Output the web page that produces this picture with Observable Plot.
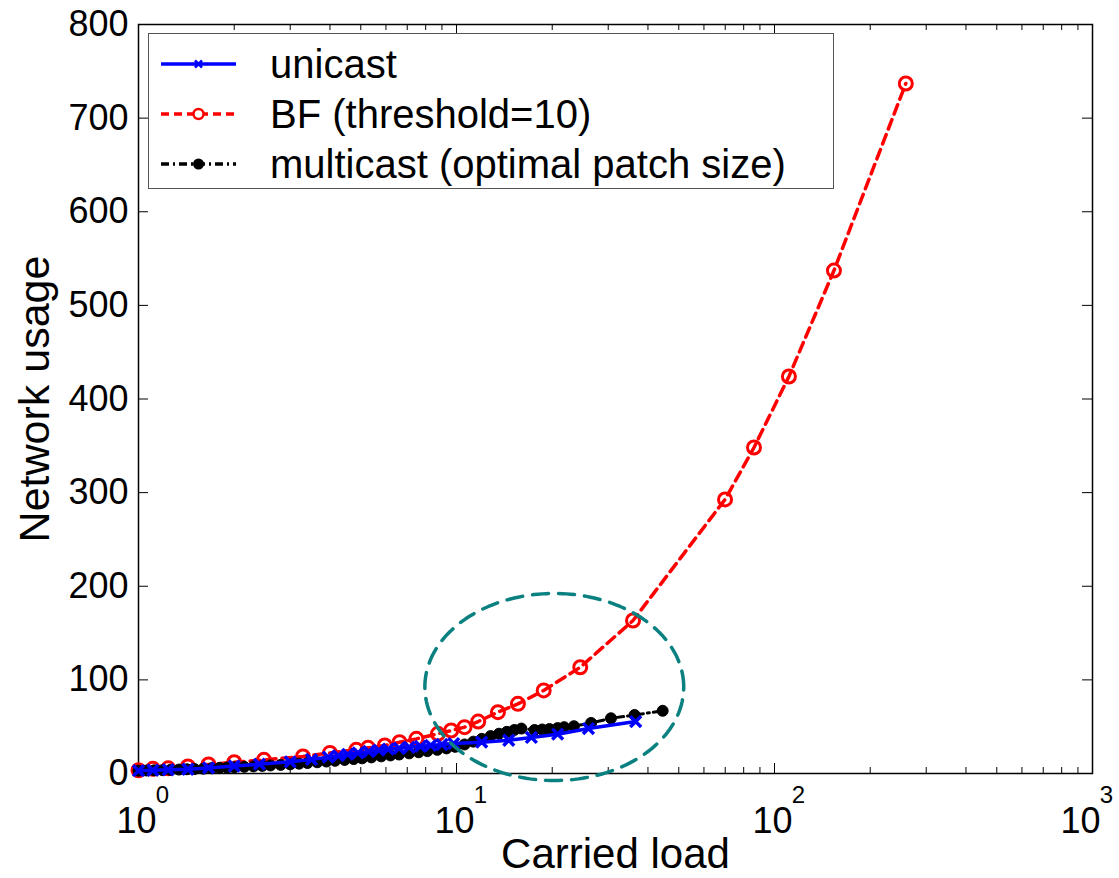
<!DOCTYPE html>
<html><head><meta charset="utf-8">
<script src="https://cdn.jsdelivr.net/npm/d3@7"></script>
<script src="https://cdn.jsdelivr.net/npm/@observablehq/plot@0.6"></script>
<style>
body{margin:0;background:#fff;font-family:"Liberation Sans",Arial,sans-serif;}
#wrap{position:relative;width:1119px;height:878px;}
#legend{position:absolute;left:148px;top:33px;width:686px;height:156px;border:1.5px solid #555;background:#fff;box-sizing:border-box;}
#legend svg{position:absolute;left:0;top:0;}
#legend .lbl{position:absolute;left:121px;font-size:40px;line-height:1;white-space:nowrap;color:#000;transform:translateY(-50%);}
</style></head><body><div id="wrap"><div id="legend"></div></div>
<script>
// ---- data ----
const seriesNames = ["unicast", "BF (threshold=10)", "multicast (optimal patch size)"];

const loadUnicast = [1, 1.11, 1.24, 1.43, 1.66, 2.0, 2.4, 3.0, 3.5, 3.95, 4.25, 4.55, 4.9, 5.3, 5.7, 6.1, 6.6, 7.1, 7.7, 8.3, 9.0, 9.8, 12, 14.6, 17.2, 20.8, 26, 36.6];
const usageUnicast = [3, 3.5, 4, 4.5, 6, 8, 10, 12.5, 15, 17.5, 19, 20.5, 22, 23.5, 25, 26, 27, 28, 29, 30, 31, 32, 33.5, 35.5, 38.5, 42, 48, 55.5];

const loadBF = [1, 1.11, 1.24, 1.43, 1.66, 2.0, 2.48, 3.29, 4.0, 4.84, 5.27, 5.95, 6.62, 7.48, 8.74, 9.62, 10.6, 11.7, 13.5, 15.6, 18.8, 24.5, 35.9, 69.9, 86.2, 111, 153.8, 258.8];
const usageBF = [3.5, 5, 5.5, 7.5, 9.6, 12, 14.6, 18.2, 22, 25.3, 27.4, 29.9, 33.4, 37, 42.4, 45.9, 49.5, 55.5, 65.5, 74.4, 88.7, 113.5, 163.4, 292.7, 348.2, 424, 537.2, 737];

const loadMulticast = [1, 1.06, 1.12, 1.19, 1.26, 1.34, 1.42, 1.5, 1.6, 1.7, 1.8, 1.9, 2.0, 2.15, 2.3, 2.45, 2.6, 2.8, 3.0, 3.2, 3.4, 3.65, 3.9, 4.15, 4.45, 4.75, 5.05, 5.4, 5.8, 6.2, 6.6, 7.1, 7.6, 8.1, 8.7, 9.3, 9.9, 10.6, 11.3, 12.0, 12.8, 13.6, 14.4, 15.2, 16.0, 17.6, 18.6, 19.6, 20.8, 21.8, 23.4, 26.5, 30.6, 36.3, 44.5];
const usageMulticast = [3, 3.2, 3.4, 3.6, 3.9, 4.2, 4.5, 4.8, 5.2, 5.6, 6.0, 6.3, 6.6, 7.1, 7.6, 8.1, 8.6, 9.2, 9.8, 10.5, 11.2, 12, 12.8, 13.6, 14.5, 15.4, 16.2, 17.2, 18.3, 19.3, 20.3, 21.5, 22.7, 23.9, 25.3, 26.8, 28.5, 31, 34, 37, 40, 42.5, 44.5, 46.5, 48, 46.5, 47, 47.5, 48.5, 49.5, 50.5, 54, 59, 62.5, 67];

const xTicksMajor = [1, 10, 100, 1000];
const xTickExp = ["0", "1", "2", "3"];
const yTicks = [0, 100, 200, 300, 400, 500, 600, 700, 800];

// highlighted region (ellipse annotation) in data units
const ellipseCenterLoad = 20.3, ellipseCenterUsage = 92.4, ellipseRadiusDecades = 0.407, ellipseRadiusUsage = 99.9;

// ---- build ----
const unicast = loadUnicast.map((x, i) => ({x, y: usageUnicast[i]}));
const bf = loadBF.map((x, i) => ({x, y: usageBF[i]}));
const multicast = loadMulticast.map((x, i) => ({x, y: usageMulticast[i]}));

const xMinor = [];
for (const d of [1, 10, 100]) for (let k = 2; k <= 9; k++) xMinor.push(d * k);

const ellipse = d3.range(0, 201).map(i => {
  const t = (i / 200) * 2 * Math.PI;
  return {x: ellipseCenterLoad * Math.pow(10, ellipseRadiusDecades * Math.cos(t)),
          y: ellipseCenterUsage + ellipseRadiusUsage * Math.sin(t)};
});

const W = 1119, H = 878;
const mL = 138, mR = 27, mT = 24, mB = 105;
const pxPerUnit = (H - mT - mB) / 800;
const pxPerDecade = (W - mL - mR) / 3;
const tMaj = 10 / pxPerUnit, tMin = 6 / pxPerUnit;
const tY = Math.pow(10, 10 / pxPerDecade);

const xLab = xTicksMajor.map((d, i) => ({d, e: xTickExp[i]}));
const xLabInner = xLab.slice(0, 3), xLabLast = xLab.slice(3);

const chart = Plot.plot({
  width: W, height: H,
  marginLeft: mL, marginRight: mR, marginTop: mT, marginBottom: mB,
  style: {fontFamily: "'Liberation Sans', Arial, sans-serif", background: "white", color: "black"},
  x: {type: "log", domain: [1, 1000], axis: null},
  y: {domain: [0, 800], axis: null},
  marks: [
    // ticks (inward)
    Plot.ruleX(xTicksMajor, {x: d => d, y1: 0, y2: tMaj, stroke: "black", strokeWidth: 1}),
    Plot.ruleX(xTicksMajor, {x: d => d, y1: 800, y2: 800 - tMaj, stroke: "black", strokeWidth: 1}),
    Plot.ruleX(xMinor, {x: d => d, y1: 0, y2: tMin, stroke: "black", strokeWidth: 1}),
    Plot.ruleX(xMinor, {x: d => d, y1: 800, y2: 800 - tMin, stroke: "black", strokeWidth: 1}),
    Plot.ruleY(yTicks, {y: d => d, x1: 1, x2: tY, stroke: "black", strokeWidth: 1}),
    Plot.ruleY(yTicks, {y: d => d, x1: 1000, x2: 1000 / tY, stroke: "black", strokeWidth: 1}),
    Plot.frame({stroke: "black", strokeWidth: 1.5}),
    Plot.axisY({ticks: yTicks, tickSize: 0, tickPadding: 10, fontSize: 36, label: null}),
    Plot.text(xLabInner, {x: "d", y: 0, text: () => "10", dy: 48, dx: -2, fontSize: 36}),
    Plot.text(xLabInner, {x: "d", y: 0, text: "e", dy: 22, dx: 24, fontSize: 24}),
    Plot.text(xLabLast, {x: "d", y: 0, text: () => "10", dy: 48, dx: -12, fontSize: 36}),
    Plot.text(xLabLast, {x: "d", y: 0, text: "e", dy: 22, dx: 14, fontSize: 24}),
    Plot.text(["Carried load"], {text: d => d, frameAnchor: "bottom", lineAnchor: "middle", dy: 81, fontSize: 42}),
    Plot.text(["Network usage"], {text: d => d, frameAnchor: "left", textAnchor: "middle", rotate: -90, dx: -103, fontSize: 43}),
    // BF
    Plot.line(bf, {x: "x", y: "y", stroke: "#ff0000", strokeWidth: 3.5, strokeDasharray: "10,6"}),
    Plot.dot(bf, {x: "x", y: "y", r: 6.5, stroke: "#ff0000", strokeWidth: 3, fill: "none"}),
    // multicast
    Plot.line(multicast, {x: "x", y: "y", stroke: "black", strokeWidth: 3, strokeDasharray: "10,4,2,4"}),
    Plot.dot(multicast, {x: "x", y: "y", r: 5.5, fill: "black", stroke: "black", strokeWidth: 1}),
    // unicast
    Plot.line(unicast, {x: "x", y: "y", stroke: "#0000ff", strokeWidth: 3.5}),
    Plot.dot(unicast, {x: "x", y: "y", r: 5, symbol: "times", stroke: "#0000ff", strokeWidth: 3.5}),
    // ellipse annotation
    Plot.line(ellipse, {x: "x", y: "y", stroke: "#0a8080", strokeWidth: 3.5, strokeDasharray: "16,10"})
  ]
});
document.getElementById("wrap").prepend(chart);
chart.style.position = "absolute"; chart.style.left = "0"; chart.style.top = "0";

// ---- legend ----
const legend = document.getElementById("legend");
const styles = [
  {stroke: "#0000ff", dash: null, marker: "times"},
  {stroke: "#ff0000", dash: "8,5", marker: "circle"},
  {stroke: "#000", dash: "8,4,2,4", marker: "dot"}
];
const rowsY = [30, 80, 130];
let svg = `<svg width="110" height="156" xmlns="http://www.w3.org/2000/svg">`;
styles.forEach((s, i) => {
  const y = rowsY[i];
  svg += `<line x1="12" x2="87" y1="${y}" y2="${y}" stroke="${s.stroke}" stroke-width="3.5" ${s.dash ? `stroke-dasharray="${s.dash}"` : ""}/>`;
  if (s.marker === "times") svg += `<path d="M${49.5-3.5},${y-3.5}L${49.5+3.5},${y+3.5}M${49.5-3.5},${y+3.5}L${49.5+3.5},${y-3.5}" stroke="${s.stroke}" stroke-width="2.5"/>`;
  if (s.marker === "circle") svg += `<circle cx="49.5" cy="${y}" r="5" fill="#fff" stroke="${s.stroke}" stroke-width="2.5"/>`;
  if (s.marker === "dot") svg += `<circle cx="49.5" cy="${y}" r="5.5" fill="${s.stroke}"/>`;
});
svg += `</svg>`;
legend.innerHTML = svg + seriesNames.map((n, i) => `<div class="lbl" style="top:${rowsY[i]}px">${n}</div>`).join("");
</script></body></html>
